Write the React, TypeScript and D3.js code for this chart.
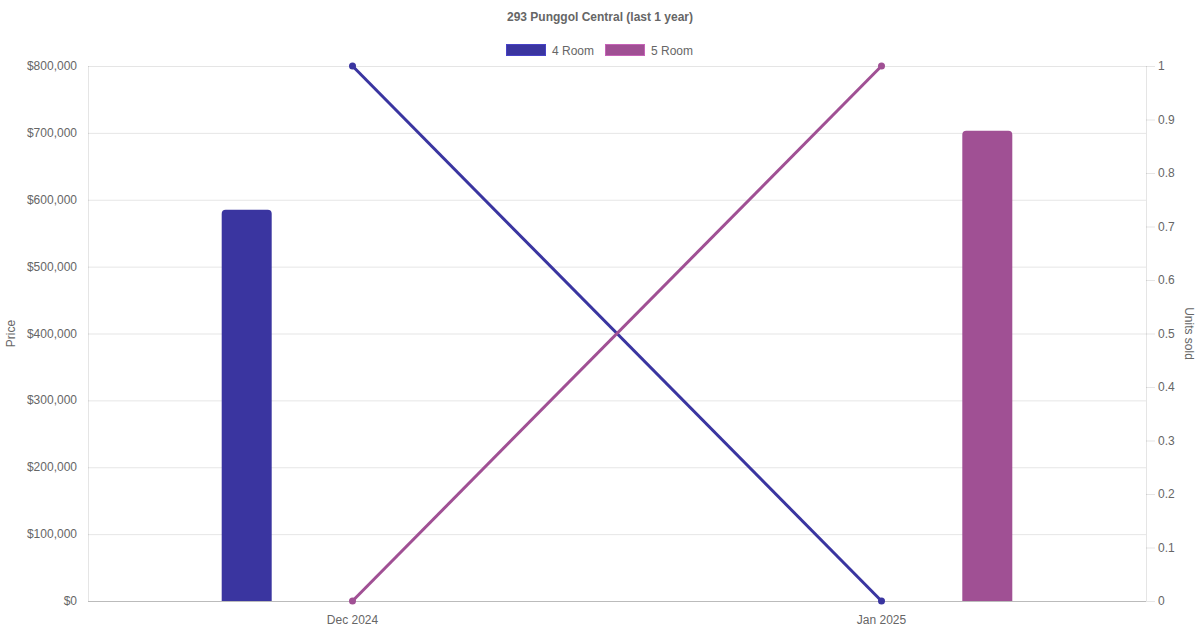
import * as d3 from 'd3'
import { useEffect, useRef } from 'react'

const months = ['Dec 2024', 'Jan 2025'];
const seriesNames = ['4 Room', '5 Room'];
const seriesColors = ['#3a35a0', '#a05094'];
// avg price per month (null = no sale)
const price4Room = [585000, null];
const price5Room = [null, 703000];
// units sold per month
const units4Room = [1, 0];
const units5Room = [0, 1];
const priceTicks = [0, 100000, 200000, 300000, 400000, 500000, 600000, 700000, 800000];
const unitTicks = [0, 0.1, 0.2, 0.3, 0.4, 0.5, 0.6, 0.7, 0.8, 0.9, 1];

const W = 1200;
const H = 630;

const App = () => {
    const ref = useRef<SVGSVGElement>(null);

    useEffect(() => {
        const svg = d3.select(ref.current);
        svg.selectAll('*').remove();

        const font = '"Liberation Sans", Arial, Helvetica, sans-serif';
        const textColor = '#666';
        const margin = { top: 66, right: 54, bottom: 29, left: 88 };
        const innerW = W - margin.left - margin.right;
        const innerH = H - margin.top - margin.bottom;

        const x = d3.scaleBand<string>().domain(months).range([0, innerW]).padding(0);
        const xGroup = d3.scaleBand<string>().domain(seriesNames)
            .range([-x.bandwidth() * 0.4, x.bandwidth() * 0.4]).padding(0);
        const barW = Math.min(50, xGroup.bandwidth() * 0.9);
        const yPrice = d3.scaleLinear().domain([0, 800000]).range([innerH, 0]);
        const yUnits = d3.scaleLinear().domain([0, 1]).range([innerH, 0]);

        svg.style('font-family', font);

        // title
        svg.append('text')
            .attr('x', W / 2).attr('y', 21)
            .attr('text-anchor', 'middle')
            .attr('font-size', 12).attr('font-weight', 'bold')
            .attr('fill', textColor)
            .text('293 Punggol Central (last 1 year)');

        // legend
        const legendX = [506, 605];
        seriesNames.forEach((name, i) => {
            const lg = svg.append('g').attr('transform', `translate(${legendX[i]},44)`);
            lg.append('rect').attr('x', 0.5).attr('y', 0.5).attr('width', 39).attr('height', 11)
                .attr('fill', seriesColors[i]).attr('stroke', d3.color(seriesColors[i])!.brighter(0.6).toString())
                .attr('stroke-width', 1);
            lg.append('text').attr('x', 46).attr('y', 10.5)
                .attr('font-size', 12).attr('fill', textColor).text(name);
        });

        const g = svg.append('g').attr('transform', `translate(${margin.left},${margin.top})`);

        // horizontal grid from price axis
        g.append('g').selectAll('line').data(priceTicks).join('line')
            .attr('x1', 0).attr('x2', innerW)
            .attr('y1', d => yPrice(d) + 0.5).attr('y2', d => yPrice(d) + 0.5)
            .attr('stroke', 'rgba(0,0,0,0.1)');

        // left axis
        g.append('line').attr('x1', 0.5).attr('x2', 0.5).attr('y1', 0).attr('y2', innerH)
            .attr('stroke', 'rgba(0,0,0,0.1)');
        g.append('g').selectAll('text').data(priceTicks).join('text')
            .attr('x', -11).attr('y', d => yPrice(d) + 4)
            .attr('text-anchor', 'end').attr('font-size', 12).attr('fill', textColor)
            .text(d => '$' + d3.format(',')(d));

        // right axis
        g.append('line').attr('x1', innerW + 0.5).attr('x2', innerW + 0.5).attr('y1', 0).attr('y2', innerH)
            .attr('stroke', 'rgba(0,0,0,0.1)');
        g.append('g').selectAll('line').data(unitTicks).join('line')
            .attr('x1', innerW).attr('x2', innerW + 9)
            .attr('y1', d => yUnits(d) + 0.5).attr('y2', d => yUnits(d) + 0.5)
            .attr('stroke', 'rgba(0,0,0,0.1)');
        g.append('g').selectAll('text').data(unitTicks).join('text')
            .attr('x', innerW + 12).attr('y', d => yUnits(d) + 4)
            .attr('font-size', 12).attr('fill', textColor)
            .text(d => d3.format('~g')(d));

        // bottom axis
        g.append('line').attr('x1', 0).attr('x2', innerW).attr('y1', innerH + 0.5).attr('y2', innerH + 0.5)
            .attr('stroke', 'rgba(0,0,0,0.18)');
        g.append('g').selectAll('text').data(months).join('text')
            .attr('x', d => x(d)! + x.bandwidth() / 2).attr('y', innerH + 23)
            .attr('text-anchor', 'middle').attr('font-size', 12).attr('fill', textColor)
            .text(d => d);

        // axis titles
        svg.append('text')
            .attr('transform', `translate(15,${margin.top + innerH / 2}) rotate(-90)`)
            .attr('text-anchor', 'middle').attr('font-size', 12).attr('fill', textColor)
            .text('Price');
        svg.append('text')
            .attr('transform', `translate(1185,${margin.top + innerH / 2}) rotate(90)`)
            .attr('text-anchor', 'middle').attr('font-size', 12).attr('fill', textColor)
            .text('Units sold');

        // bars (rounded top corners)
        const priceSeries = [price4Room, price5Room];
        const r = 4;
        priceSeries.forEach((vals, si) => {
            vals.forEach((v, mi) => {
                if (v == null) return;
                const cx = x(months[mi])! + x.bandwidth() / 2 + xGroup(seriesNames[si])! + xGroup.bandwidth() / 2;
                const x0 = cx - barW / 2;
                const x1 = cx + barW / 2;
                const yTop = yPrice(v);
                const yBot = yPrice(0);
                const p = d3.path();
                p.moveTo(x0, yBot);
                p.lineTo(x0, yTop + r);
                p.arcTo(x0, yTop, x0 + r, yTop, r);
                p.lineTo(x1 - r, yTop);
                p.arcTo(x1, yTop, x1, yTop + r, r);
                p.lineTo(x1, yBot);
                p.closePath();
                g.append('path').attr('d', p.toString()).attr('fill', seriesColors[si]);
            });
        });

        // unit lines
        const unitSeries = [units4Room, units5Room];
        const line = d3.line<number>()
            .x((_, i) => x(months[i])! + x.bandwidth() / 2)
            .y(d => yUnits(d));
        unitSeries.forEach((vals, si) => {
            g.append('path').datum(vals)
                .attr('fill', 'none').attr('stroke', seriesColors[si]).attr('stroke-width', 3)
                .attr('d', line);
            g.append('g').selectAll('circle').data(vals).join('circle')
                .attr('cx', (_, i) => x(months[i])! + x.bandwidth() / 2)
                .attr('cy', d => yUnits(d))
                .attr('r', 3.5)
                .attr('fill', seriesColors[si]);
        });
    }, []);

    return (
        <svg ref={ref} width={W} height={H}
            style={{ position: 'absolute', left: 0, top: 0, background: '#fff' }} />
    );
};

export default App;
